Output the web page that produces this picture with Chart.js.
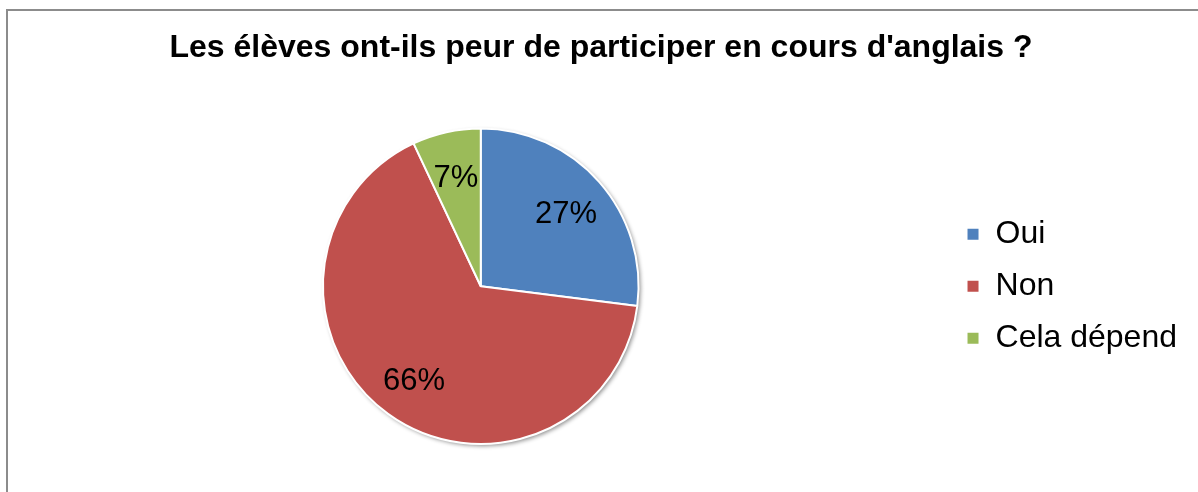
<!DOCTYPE html>
<html lang="fr">
<head>
<meta charset="utf-8">
<title>Les élèves ont-ils peur de participer en cours d'anglais ?</title>
<script src="https://cdn.jsdelivr.net/npm/chart.js@4/dist/chart.umd.min.js"></script>
<style>
    html, body { margin: 0; padding: 0; background: #fff; overflow: hidden; }
    #wrap { position: relative; width: 1198px; height: 492px; }
    #frame {
        position: absolute; left: 6px; top: 9px; width: 1300px; height: 600px;
        border-left: 2px solid #8c8c8c; border-top: 2px solid #8c8c8c;
    }
    canvas { position: absolute; left: 0; top: 0; }
</style>
</head>
<body>
<div id="wrap">
    <div id="frame"></div>
    <canvas id="chart" width="1198" height="492"></canvas>
</div>
<script>
// données du graphique
const titre = "Les élèves ont-ils peur de participer en cours d'anglais ?";
const categories = ['Oui', 'Non', 'Cela dépend'];
const pourcentages = [27, 66, 7];
const couleurs = ['#4F81BD', '#C0504D', '#9BBB59'];

const police = 'Arial, "Liberation Sans", sans-serif';

// ombre légère sous le camembert
const ombrePlugin = {
    id: 'ombre',
    beforeDatasetsDraw(chart) {
        const arc = chart.getDatasetMeta(0).data[0];
        if (!arc) return;
        const ctx = chart.ctx;
        ctx.save();
        ctx.shadowColor = 'rgba(0,0,0,0.45)';
        ctx.shadowBlur = 4;
        ctx.shadowOffsetX = 2;
        ctx.shadowOffsetY = 2;
        ctx.beginPath();
        ctx.arc(arc.x, arc.y, arc.outerRadius, 0, Math.PI * 2);
        ctx.fillStyle = '#fff';
        ctx.fill();
        ctx.restore();
    }
};

// étiquettes de pourcentage dans les parts
const etiquettesPlugin = {
    id: 'etiquettes',
    afterDatasetsDraw(chart) {
        const ctx = chart.ctx;
        const meta = chart.getDatasetMeta(0);
        ctx.save();
        ctx.font = '31px ' + police;
        ctx.fillStyle = '#000';
        ctx.textAlign = 'center';
        ctx.textBaseline = 'middle';
        meta.data.forEach((arc, i) => {
            const milieu = (arc.startAngle + arc.endAngle) / 2;
            const r = arc.outerRadius * 0.72;
            const x = arc.x + Math.cos(milieu) * r;
            const y = arc.y + Math.sin(milieu) * r + 3;
            ctx.fillText(pourcentages[i] + '%', x, y);
        });
        ctx.restore();
    }
};

const ctx = document.getElementById('chart').getContext('2d');
new Chart(ctx, {
    type: 'pie',
    data: {
        labels: categories,
        datasets: [{
            data: pourcentages,
            backgroundColor: couleurs,
            borderColor: '#fff',
            borderWidth: 2
        }]
    },
    options: {
        responsive: false,
        animation: false,
        layout: { padding: { left: 15, right: 11, top: 0, bottom: 47 } },
        plugins: {
            title: {
                display: true,
                text: titre,
                color: '#000',
                font: { family: police, size: 32, weight: 'bold' },
                padding: { top: 29, bottom: 60 }
            },
            legend: {
                position: 'right',
                align: 'center',
                fullSize: false,
                labels: {
                    color: '#000',
                    font: { family: police, size: 32 },
                    boxWidth: 13,
                    boxHeight: 13,
                    padding: 20
                }
            },
            tooltip: { enabled: false }
        }
    },
    plugins: [ombrePlugin, etiquettesPlugin]
});
</script>
</body>
</html>
